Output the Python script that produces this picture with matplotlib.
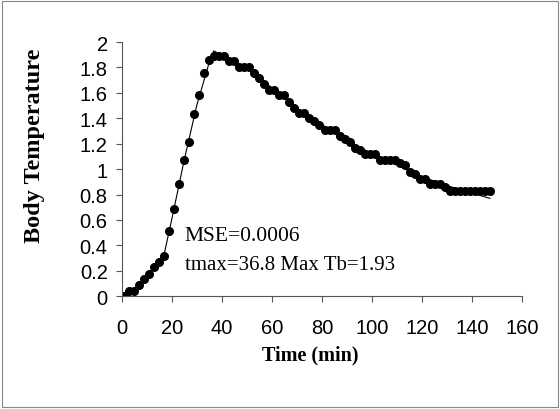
import matplotlib
matplotlib.use('Agg')
import matplotlib.pyplot as plt
import numpy as np

# measured body temperature (every 2 min)
time_min = np.arange(1, 149, 2)
body_temp = [0.00, 0.045, 0.045, 0.085, 0.135, 0.175, 0.23, 0.27, 0.315, 0.51,
             0.69, 0.88, 1.07, 1.21, 1.435, 1.58, 1.76, 1.86, 1.89, 1.89,
             1.89, 1.85, 1.85, 1.80, 1.80, 1.80, 1.76, 1.72, 1.67, 1.62,
             1.62, 1.58, 1.58, 1.53, 1.48, 1.44, 1.44, 1.40, 1.38, 1.35,
             1.31, 1.31, 1.31, 1.26, 1.24, 1.21, 1.17, 1.15, 1.12, 1.12,
             1.12, 1.07, 1.07, 1.07, 1.07, 1.05, 1.03, 0.98, 0.96, 0.92,
             0.92, 0.885, 0.885, 0.885, 0.86, 0.83, 0.83, 0.83, 0.83, 0.83,
             0.83, 0.83, 0.83, 0.83]

# fitted model curve
fit_t = [0, 5, 10, 15, 17, 20, 25, 30, 35, 36.8, 40, 45, 50, 55, 60,
         70, 80, 90, 100, 110, 120, 130, 140, 147]
fit_y = [0, 0.05, 0.15, 0.27, 0.33, 0.6, 1.07, 1.5, 1.84, 1.93, 1.90, 1.84,
         1.79, 1.72, 1.64, 1.48, 1.35, 1.23, 1.12, 1.03, 0.94, 0.87, 0.81, 0.77]

fig = plt.figure(figsize=(5.6, 4.1), dpi=100)
ax = fig.add_axes([0.217, 0.275, 0.716, 0.62])

ax.plot(fit_t, fit_y, color='black', lw=0.8)
ax.plot(time_min, body_temp, 'o', color='black', ms=5.5)

ax.set_xlim(0, 160)
ax.set_ylim(0, 2)
ax.set_xticks(np.arange(0, 161, 20))
ax.set_yticks(np.arange(0, 2.01, 0.2))
ax.set_yticklabels(['0', '0.2', '0.4', '0.6', '0.8', '1', '1.2', '1.4', '1.6', '1.8', '2'])
for s in ['top', 'right']:
    ax.spines[s].set_visible(False)
for s in ['left', 'bottom']:
    ax.spines[s].set_color('#555555')
    ax.spines[s].set_linewidth(0.8)
ax.tick_params(direction='out', length=4, width=0.8, color='#555555',
               labelsize=14.5)
ax.tick_params(axis='x', pad=12)
ax.tick_params(axis='y', pad=6)
for lab in ax.get_xticklabels() + ax.get_yticklabels():
    lab.set_family('Liberation Sans')

ax.set_xlabel('Time (min)', family='Liberation Serif', weight='bold',
              fontsize=14.5)
ax.set_ylabel('Body Temperature', family='Liberation Serif', weight='bold',
              fontsize=17.5)
ax.xaxis.set_label_coords(0.47, -0.19)
ax.yaxis.set_label_coords(-0.19, 0.595)

ax.text(25.3, 0.475, 'MSE=0.0006', family='Liberation Serif', fontsize=15.5,
        va='center', ha='left')
ax.text(25.3, 0.246, 'tmax=36.8 Max Tb=1.93', family='Liberation Serif',
        fontsize=15, va='center', ha='left')

# outer frame
fig.patches.append(plt.Rectangle((0.004, 0.004), 0.992, 0.992,
                                 transform=fig.transFigure, fill=False,
                                 edgecolor='#888888', lw=0.8))

fig.savefig('out.png', dpi=100)
